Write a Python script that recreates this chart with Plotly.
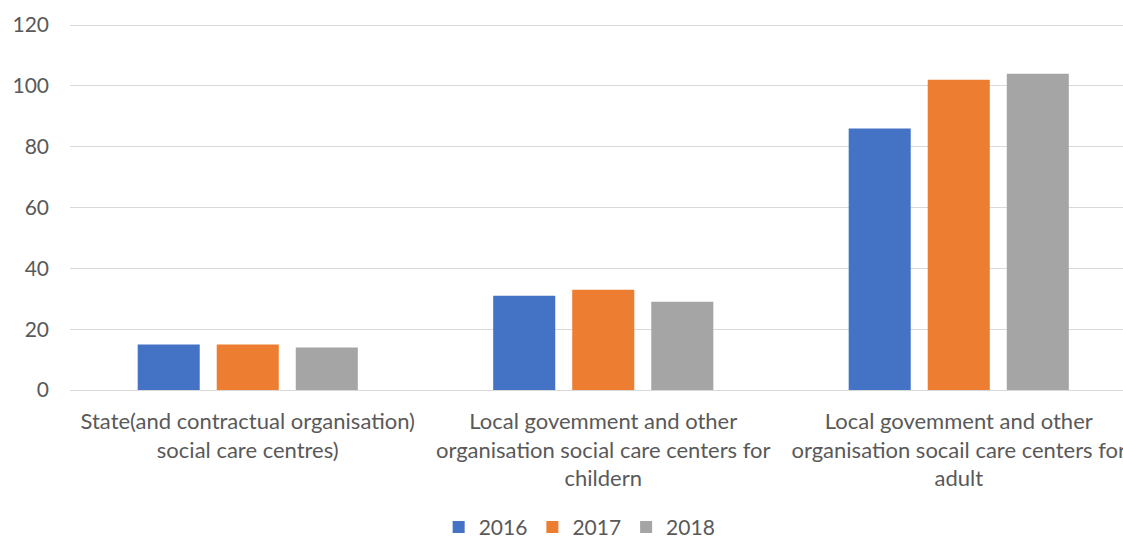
import plotly.graph_objects as go

categorias = [
    "State(and contractual organisation)<br>social care centres)",
    "Local govemment and other<br>organisation social care centers for<br>childern",
    "Local govemment and other<br>organisation socail care centers for<br>adult",
]
anios = ["2016", "2017", "2018"]
valores = {
    "2016": [15, 31, 86],
    "2017": [15, 33, 102],
    "2018": [14, 29, 104],
}
colores = {"2016": "#4472C4", "2017": "#ED7D31", "2018": "#A5A5A5"}
ticks_y = [0, 20, 40, 60, 80, 100, 120]

fig = go.Figure()
for a in anios:
    fig.add_trace(go.Bar(x=categorias, y=valores[a], name=a,
                         marker=dict(color=colores[a], line=dict(width=0))))

fig.update_layout(
    width=1123, height=540,
    barmode="group", bargap=0.333, bargroupgap=0.215,
    plot_bgcolor="white", paper_bgcolor="white",
    margin=dict(l=70, r=0, t=23, b=150, autoexpand=False),
    font=dict(family="Lato, Noto Sans, sans-serif", size=21, color="#595959"),
    legend=dict(orientation="h", x=0.484, xanchor="center", y=-0.374, yanchor="middle",
                font=dict(size=21), traceorder="normal"),
    xaxis=dict(range=[-0.5, 2.462], showgrid=False, showline=False, ticks="",
               tickfont=dict(size=22), ticklabelstandoff=16, automargin=False),
    yaxis=dict(range=[0, 120.66], tickvals=ticks_y, showgrid=True, gridcolor="#D9D9D9",
               gridwidth=1.3, zeroline=True, zerolinecolor="#D9D9D9", zerolinewidth=1.3,
               ticks="", ticklabelstandoff=20, automargin=False),
)
# quitar el margen de 8px del body para que la figura llene la ventana
fig.write_html("out.html", config={"displayModeBar": False},
               post_script="document.body.style.margin='0';")
